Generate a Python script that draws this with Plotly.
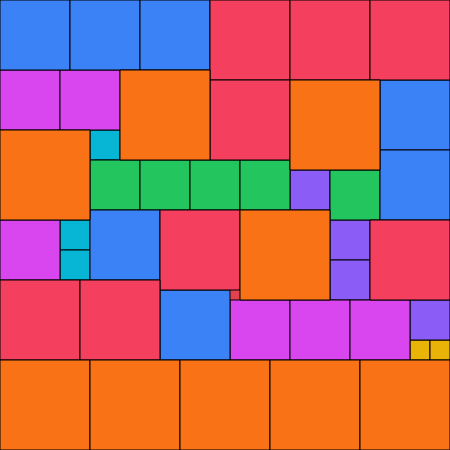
import plotly.graph_objects as go

# Square tiles: left x, top y, side length (grouped by side length / colour)
groups = {
    20: {"x": [410, 430], "y": [340, 340], "color": "#eab308"},
    30: {"x": [90, 60, 60], "y": [130, 220, 250], "color": "#06b6d4"},
    40: {"x": [290, 330, 330, 410], "y": [170, 220, 260, 300], "color": "#8b5cf6"},
    50: {"x": [90, 140, 190, 240, 330], "y": [160, 160, 160, 160, 170], "color": "#22c55e"},
    60: {"x": [0, 60, 0, 230, 290, 350], "y": [70, 70, 220, 300, 300, 300], "color": "#d946ef"},
    70: {"x": [0, 70, 140, 380, 380, 90, 160], "y": [0, 0, 0, 80, 150, 210, 290], "color": "#3b82f6"},
    80: {"x": [210, 290, 370, 210, 160, 370, 0, 80], "y": [0, 0, 0, 80, 210, 220, 280, 280], "color": "#f43f5e"},
    90: {"x": [120, 290, 0, 240, 0, 90, 180, 270, 360], "y": [70, 80, 130, 210, 360, 360, 360, 360, 360], "color": "#f97316"},
}

fig = go.Figure()
for size, g in groups.items():
    n = len(g["x"])
    fig.add_trace(go.Bar(
        x=[xx + size / 2 for xx in g["x"]],
        y=[size] * n,
        base=g["y"],
        width=[size] * n,
        marker=dict(color=g["color"], line=dict(color="black", width=1)),
        hoverinfo="skip",
        showlegend=False,
    ))

fig.update_layout(
    width=450, height=450,
    margin=dict(l=0, r=0, t=0, b=0),
    barmode="overlay",
    plot_bgcolor="#e0434f",
    paper_bgcolor="white",
    xaxis=dict(range=[0, 450], visible=False, fixedrange=True),
    yaxis=dict(range=[450, 0], visible=False, fixedrange=True),
)
fig.write_html(
    "out.html",
    config={"displayModeBar": False},
    post_script="document.body.style.margin='0';document.body.style.overflow='hidden';",
)
